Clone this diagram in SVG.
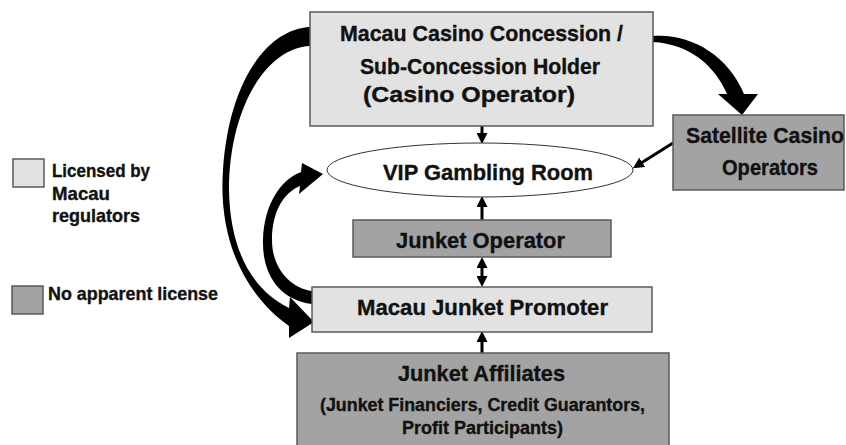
<svg xmlns="http://www.w3.org/2000/svg" width="846" height="445" viewBox="0 0 846 445">
<style>
  .lic{fill:#e2e2e2;stroke:#5a5a5a;stroke-width:1.5}
  .nol{fill:#a3a3a3;stroke:#5a5a5a;stroke-width:1.5}
  .t{font-family:"Liberation Sans",Arial,sans-serif;font-weight:bold;fill:#111;stroke:#111;stroke-width:0.35}
  .big{font-size:21.5px}
  .sm{font-size:17.5px}
  .lg{font-size:18.5px}
  .ln{stroke:#000;stroke-width:3;fill:none}
  .fat{fill:#000}
</style>
<defs>
  <marker id="ah" markerUnits="userSpaceOnUse" markerWidth="11" markerHeight="11" refX="5" refY="5.5" orient="auto-start-reverse" viewBox="0 0 11 11">
    <path d="M0,0 L11,5.5 L0,11 Z" fill="#000"/>
  </marker>
</defs>
<rect width="846" height="445" fill="#fff"/>

<g id="legend">
  <rect class="lic" x="13" y="159" width="31" height="28"/>
  <text class="t lg" x="52" y="177" textLength="98" lengthAdjust="spacingAndGlyphs">Licensed by</text>
  <text class="t lg" x="52" y="200" textLength="58" lengthAdjust="spacingAndGlyphs">Macau</text>
  <text class="t lg" x="52" y="222" textLength="88" lengthAdjust="spacingAndGlyphs">regulators</text>
  <rect class="nol" x="12" y="286" width="31" height="28"/>
  <text class="t lg" x="48" y="300" textLength="170" lengthAdjust="spacingAndGlyphs">No apparent license</text>
</g>

<g id="connectors">
  <path class="fat" d="M310,27 C268,29 229,80 223,170 C218,240 245,295 289,326 L289,338 L314,322 L290,297 L289,308 C252,290 230,250 229,190 C229,110 265,48 310,46 Z"/>
  <path class="fat" d="M312,304 C280,300 262,275 263,240 C264,205 280,180 301,172 L302,163 L323,174 L299,194 L300,186 C285,192 272,210 272,240 C272,268 290,288 312,291 Z"/>
  <path class="fat" d="M653,36 C690,33 728,55 744,94 L758,94 L742,115 L718,94 L727,94 C715,66 690,44 653,42 Z"/>
  <line class="ln" x1="482" y1="125" x2="482" y2="138" marker-end="url(#ah)"/>
  <line class="ln" x1="482" y1="220" x2="482" y2="202" marker-end="url(#ah)"/>
  <line class="ln" x1="482" y1="263" x2="482" y2="281" marker-start="url(#ah)" marker-end="url(#ah)"/>
  <line class="ln" x1="482" y1="353" x2="482" y2="337" marker-end="url(#ah)"/>
  <line class="ln" x1="673" y1="143" x2="638" y2="165" stroke-width="2.5" marker-end="url(#ah)"/>
</g>

<g id="casino-operator">
  <rect class="lic" x="310" y="12" width="343" height="114"/>
  <text class="t big" x="340" y="41" textLength="283" lengthAdjust="spacingAndGlyphs">Macau Casino Concession /</text>
  <text class="t big" x="360" y="74" textLength="240" lengthAdjust="spacingAndGlyphs">Sub-Concession Holder</text>
  <text class="t big" x="363" y="102" textLength="212" lengthAdjust="spacingAndGlyphs">(Casino Operator)</text>
</g>

<g id="satellite">
  <rect class="nol" x="673" y="115" width="171" height="75"/>
  <text class="t big" x="686" y="143" textLength="158" lengthAdjust="spacingAndGlyphs">Satellite Casino</text>
  <text class="t big" x="722" y="175" textLength="96" lengthAdjust="spacingAndGlyphs">Operators</text>
</g>

<g id="vip-room">
  <ellipse cx="480" cy="170" rx="153" ry="27" fill="#fff" stroke="#333" stroke-width="1"/>
  <text class="t big" x="383" y="180" textLength="210" lengthAdjust="spacingAndGlyphs">VIP Gambling Room</text>
</g>

<g id="junket-operator">
  <rect class="nol" x="353" y="220" width="258" height="37"/>
  <text class="t big" x="396" y="248" textLength="169" lengthAdjust="spacingAndGlyphs">Junket Operator</text>
</g>

<g id="junket-promoter">
  <rect class="lic" x="312" y="287" width="340" height="45"/>
  <text class="t big" x="357" y="315" textLength="251" lengthAdjust="spacingAndGlyphs">Macau Junket Promoter</text>
</g>

<g id="junket-affiliates">
  <rect class="nol" x="297" y="353" width="372" height="96"/>
  <text class="t big" x="398" y="381" textLength="167" lengthAdjust="spacingAndGlyphs">Junket Affiliates</text>
  <text class="t sm" x="320" y="411" textLength="325" lengthAdjust="spacingAndGlyphs">(Junket Financiers, Credit Guarantors,</text>
  <text class="t sm" x="402" y="434" textLength="161" lengthAdjust="spacingAndGlyphs">Profit Participants)</text>
</g>
</svg>
